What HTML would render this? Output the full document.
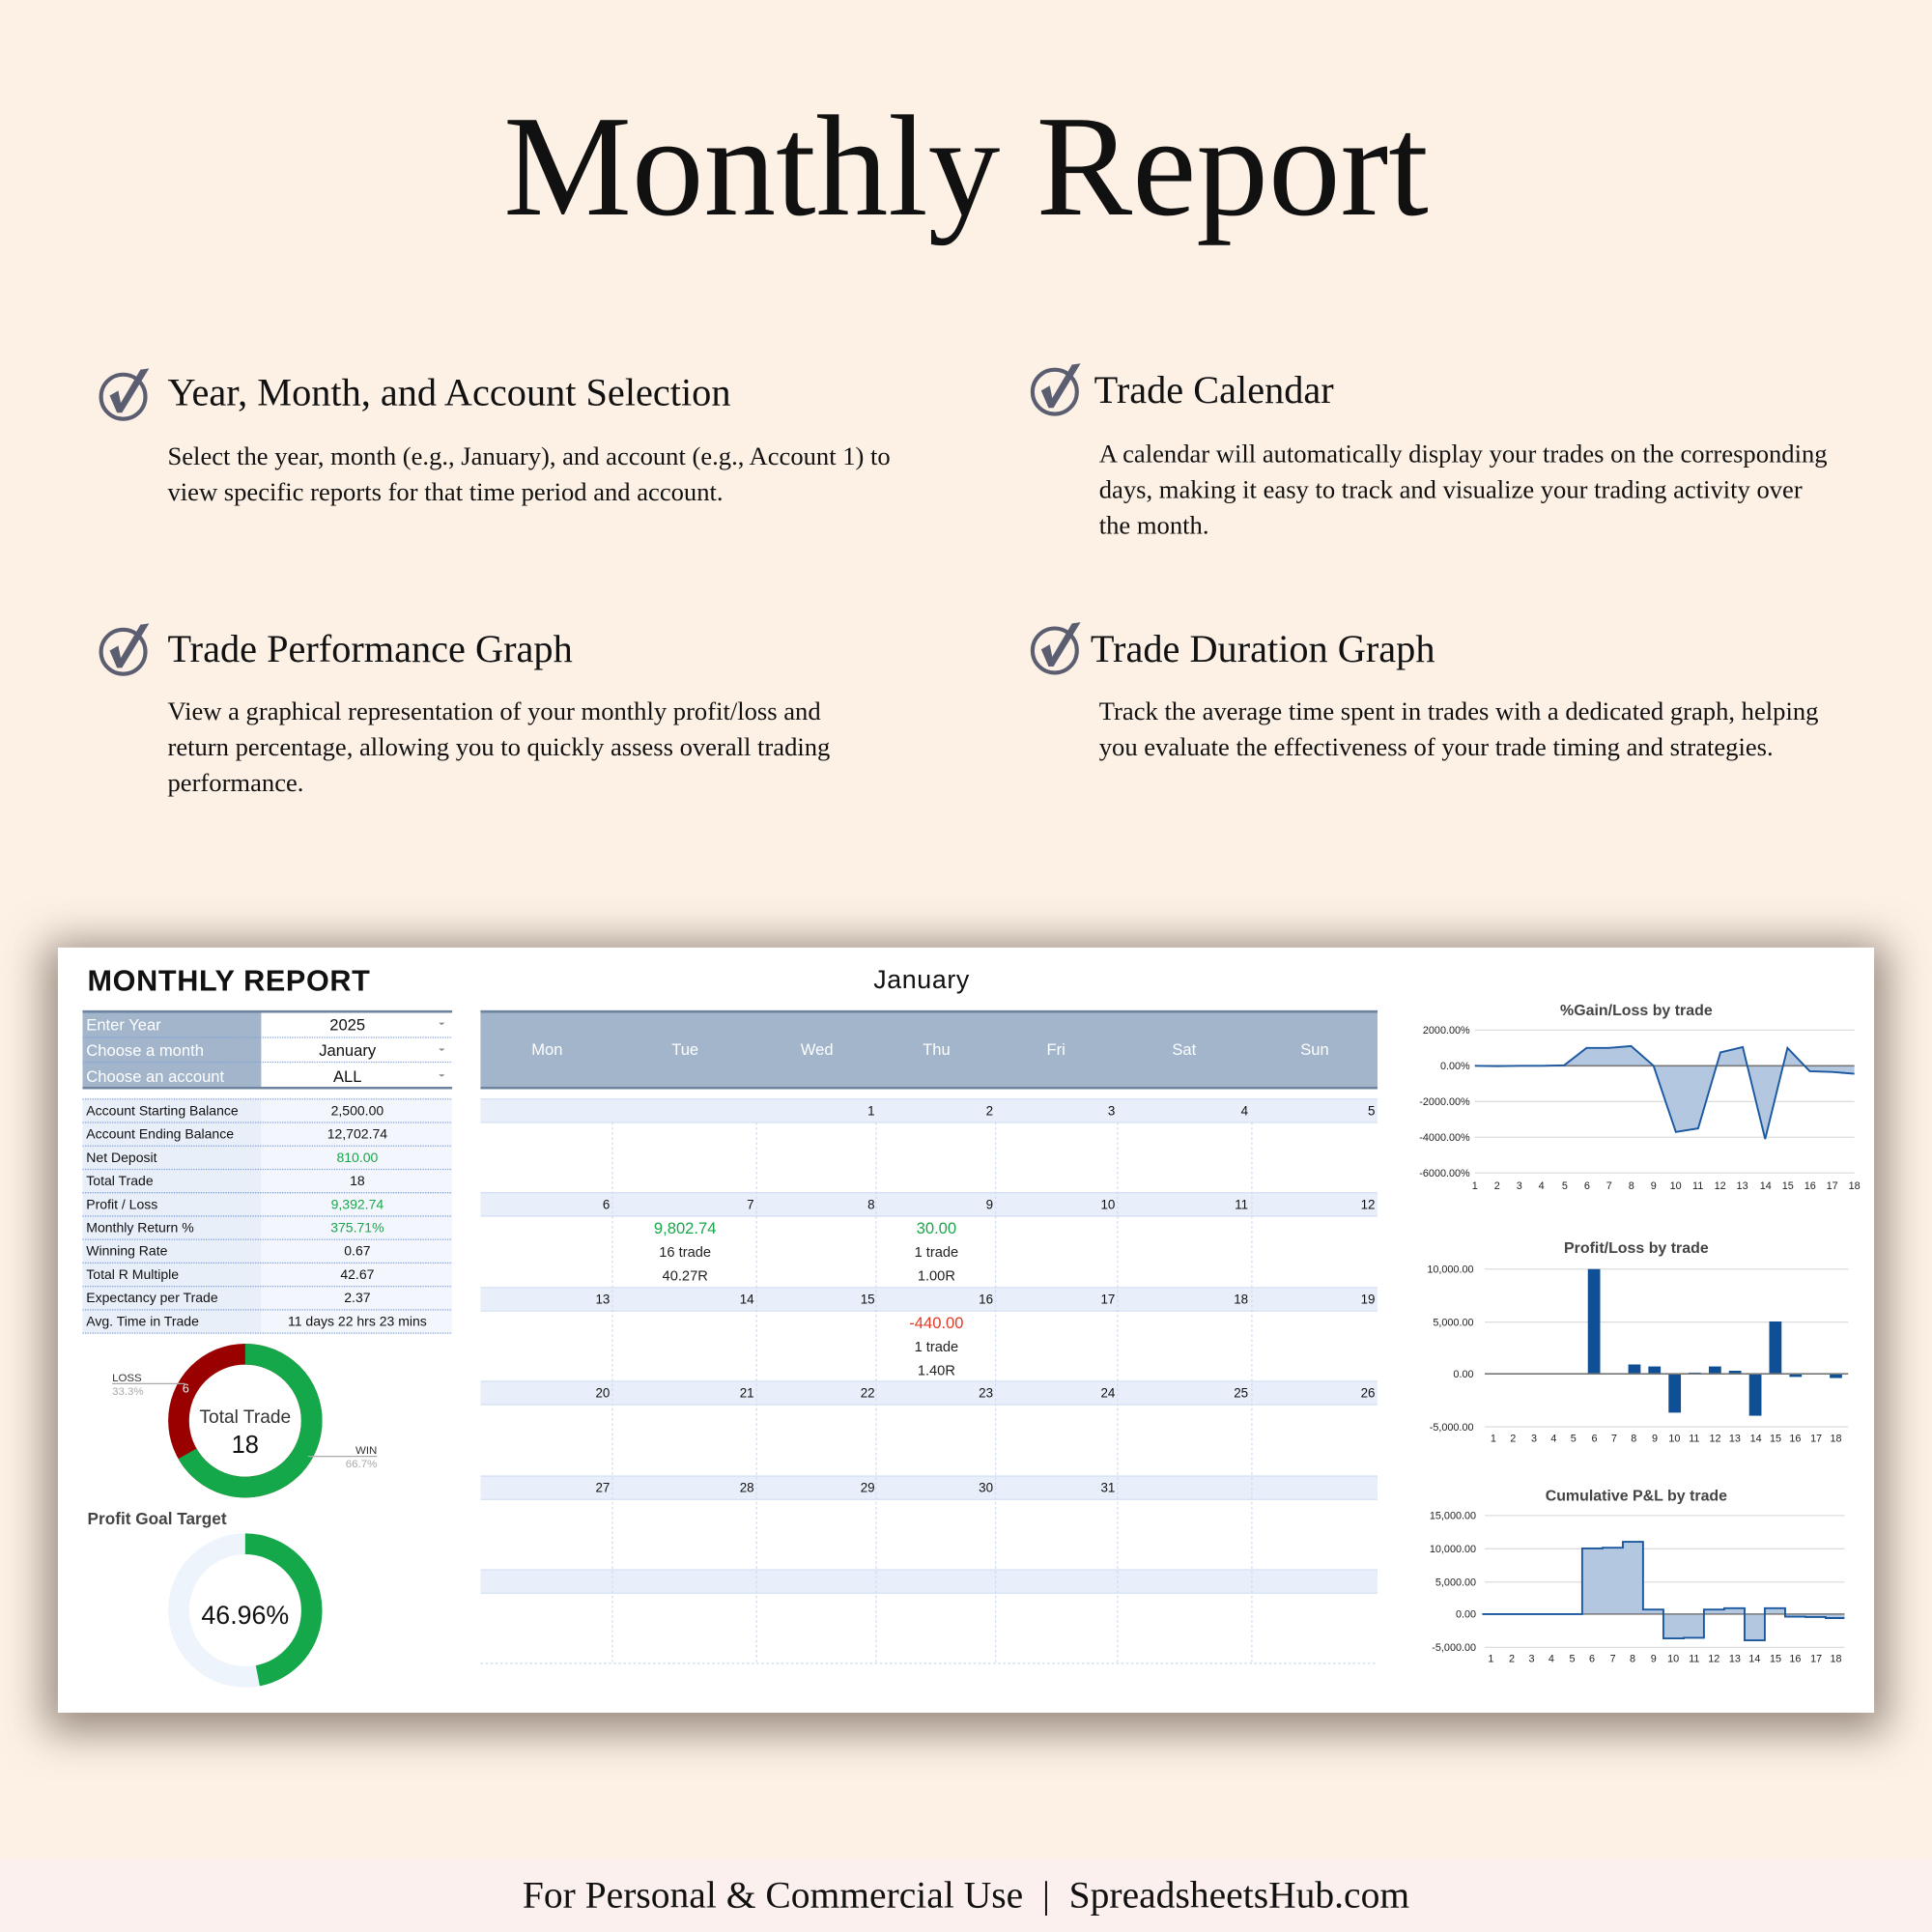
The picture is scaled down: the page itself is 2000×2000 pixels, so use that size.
<!DOCTYPE html>
<html><head><meta charset="utf-8"><style>
html,body{margin:0;padding:0;}
body{width:2000px;height:2000px;overflow:hidden;background:#fdf1e6;}
#c{position:absolute;left:0;top:0;width:1568px;height:1568px;transform:scale(1.27551);transform-origin:0 0;font-family:"Liberation Serif",serif;color:#111;}
.t{position:absolute;white-space:nowrap;}
.h{font-size:31.6px;}
.p{font-size:20.85px;line-height:29px;}
#panel{position:absolute;left:47px;top:769px;width:1474px;height:621px;background:#fff;box-shadow:0 6px 32px 10px rgba(70,55,40,.55);}
</style></head><body><div id="c">
<div class="t" style="left:0;width:1568px;text-align:center;top:66px;font-size:117px;line-height:140px;">Monthly Report</div>

<svg class="t" style="left:0;top:0" width="1568" height="760">
<defs><g id="ck"><circle cx="0" cy="0" r="18" fill="none" stroke="#5b5e70" stroke-width="3.2"/><path d="M-11,-1 L-4,-5 L-2,5 L14,-22 L21,-23 L-1,13 L-5,13 Z" fill="#5b5e70"/></g></defs>
<use href="#ck" x="100" y="322"/><use href="#ck" x="856" y="318"/>
<use href="#ck" x="100" y="529"/><use href="#ck" x="856" y="528"/>
</svg>
<div class="t h" style="left:136px;top:301px;">Year, Month, and Account Selection</div>
<div class="t p" style="left:136px;top:356px;">Select the year, month (e.g., January), and account (e.g., Account 1) to<br>view specific reports for that time period and account.</div>
<div class="t h" style="left:888px;top:299px;">Trade Calendar</div>
<div class="t p" style="left:892px;top:354px;">A calendar will automatically display your trades on the corresponding<br>days, making it easy to track and visualize your trading activity over<br>the month.</div>
<div class="t h" style="left:136px;top:509px;">Trade Performance Graph</div>
<div class="t p" style="left:136px;top:563px;">View a graphical representation of your monthly profit/loss and<br>return percentage, allowing you to quickly assess overall trading<br>performance.</div>
<div class="t h" style="left:885px;top:509px;">Trade Duration Graph</div>
<div class="t p" style="left:892px;top:563px;">Track the average time spent in trades with a dedicated graph, helping<br>you evaluate the effectiveness of your trade timing and strategies.</div>

<div id="panel"></div>
<svg class="t" style="left:0;top:0" width="1568" height="1568" font-family="Liberation Sans, sans-serif">
<text x="71" y="804" font-size="24" fill="#111" letter-spacing="0.5" font-weight="600">MONTHLY REPORT</text>
<text x="748" y="802" font-size="21" fill="#111" text-anchor="middle" letter-spacing="0.5">January</text>
<rect x="67" y="821" width="145" height="62" fill="#a3b5cb"/>
<line x1="67" y1="821" x2="367" y2="821" stroke="#6d849e" stroke-width="2"/>
<line x1="67" y1="883" x2="367" y2="883" stroke="#6d849e" stroke-width="2"/>
<line x1="67" y1="842" x2="367" y2="842" stroke="#7fa0dc" stroke-dasharray="1,1"/>
<line x1="67" y1="862" x2="367" y2="862" stroke="#7fa0dc" stroke-dasharray="1,1"/>
<g font-size="13" fill="#fff"><text x="70" y="836">Enter Year</text><text x="70" y="857">Choose a month</text><text x="70" y="878">Choose an account</text></g>
<g font-size="13" fill="#111" text-anchor="middle"><text x="282" y="836">2025</text><text x="282" y="857">January</text><text x="282" y="878">ALL</text></g>
<g fill="#888"><path d="M356,830h5l-2.5,2z"/><path d="M356,851h5l-2.5,2z"/><path d="M356,872h5l-2.5,2z"/></g>
<rect x="67" y="892" width="145" height="190" fill="#e9eff9"/>
<rect x="212" y="892" width="155" height="190" fill="#f3f7fd"/>
<g stroke="#7fa0dc" stroke-dasharray="1,1">
<line x1="67" y1="892" x2="367" y2="892"/><line x1="67" y1="911" x2="367" y2="911"/><line x1="67" y1="930" x2="367" y2="930"/><line x1="67" y1="949" x2="367" y2="949"/><line x1="67" y1="968" x2="367" y2="968"/><line x1="67" y1="987" x2="367" y2="987"/><line x1="67" y1="1006" x2="367" y2="1006"/><line x1="67" y1="1025" x2="367" y2="1025"/><line x1="67" y1="1044" x2="367" y2="1044"/><line x1="67" y1="1063" x2="367" y2="1063"/><line x1="67" y1="1082" x2="367" y2="1082"/></g>
<g font-size="11" fill="#111">
<text x="70" y="905">Account Starting Balance</text><text x="70" y="924">Account Ending Balance</text><text x="70" y="943">Net Deposit</text><text x="70" y="962">Total Trade</text><text x="70" y="981">Profit / Loss</text><text x="70" y="1000">Monthly Return %</text><text x="70" y="1019">Winning Rate</text><text x="70" y="1038">Total R Multiple</text><text x="70" y="1057">Expectancy per Trade</text><text x="70" y="1076">Avg. Time in Trade</text></g>
<g font-size="11" fill="#111" text-anchor="middle">
<text x="290" y="905">2,500.00</text><text x="290" y="924">12,702.74</text><text x="290" y="943" fill="#1aa64a">810.00</text><text x="290" y="962">18</text><text x="290" y="981" fill="#1aa64a">9,392.74</text><text x="290" y="1000" fill="#1aa64a">375.71%</text><text x="290" y="1019">0.67</text><text x="290" y="1038">42.67</text><text x="290" y="1057">2.37</text><text x="290" y="1076">11 days 22 hrs 23 mins</text></g>
<circle cx="199" cy="1153" r="54" fill="none" stroke="#990000" stroke-width="17"/>
<circle cx="199" cy="1153" r="54" fill="none" stroke="#14a84a" stroke-width="17" stroke-dasharray="226.3 400" transform="rotate(-90 199 1153)"/>
<text x="199" y="1155" font-size="15" fill="#333" text-anchor="middle">Total Trade</text>
<text x="199" y="1179" font-size="20" fill="#111" text-anchor="middle">18</text>
<line x1="91" y1="1123" x2="150" y2="1123" stroke="#aaa"/><text x="91" y="1121" font-size="9" fill="#333">LOSS</text><text x="91" y="1132" font-size="9" fill="#aaa">33.3%</text><text x="148" y="1130" font-size="10" fill="#eee">6</text>
<line x1="250" y1="1182" x2="306" y2="1182" stroke="#aaa"/><text x="306" y="1180" font-size="9" fill="#333" text-anchor="end">WIN</text><text x="306" y="1191" font-size="9" fill="#aaa" text-anchor="end">66.7%</text>
<text x="71" y="1237" font-size="13.5" font-weight="bold" fill="#444">Profit Goal Target</text>
<circle cx="199" cy="1307" r="54" fill="none" stroke="#eef4fc" stroke-width="17"/>
<circle cx="199" cy="1307" r="54" fill="none" stroke="#14a84a" stroke-width="17" stroke-dasharray="159.3 400" transform="rotate(-90 199 1307)"/>
<text x="199" y="1318" font-size="21" fill="#111" text-anchor="middle">46.96%</text>
<rect x="390" y="820" width="728" height="63" fill="#a2b5cb"/>
<line x1="390" y1="821" x2="1118" y2="821" stroke="#6d849e" stroke-width="2"/>
<line x1="390" y1="883" x2="1118" y2="883" stroke="#6d849e" stroke-width="2"/>
<g font-size="13" fill="#fff" text-anchor="middle"><text x="444" y="856">Mon</text><text x="556" y="856">Tue</text><text x="663" y="856">Wed</text><text x="760" y="856">Thu</text><text x="857" y="856">Fri</text><text x="961" y="856">Sat</text><text x="1067" y="856">Sun</text></g>
<g fill="#e8effa"><rect x="390" y="892" width="728" height="19"/><rect x="390" y="968" width="728" height="19"/><rect x="390" y="1045" width="728" height="19"/><rect x="390" y="1121" width="728" height="19"/><rect x="390" y="1198" width="728" height="19"/><rect x="390" y="1274" width="728" height="19"/></g>
<g stroke="#d4e0f4"><line x1="390" y1="892" x2="1118" y2="892"/><line x1="390" y1="911" x2="1118" y2="911"/><line x1="390" y1="968" x2="1118" y2="968"/><line x1="390" y1="987" x2="1118" y2="987"/><line x1="390" y1="1045" x2="1118" y2="1045"/><line x1="390" y1="1064" x2="1118" y2="1064"/><line x1="390" y1="1121" x2="1118" y2="1121"/><line x1="390" y1="1140" x2="1118" y2="1140"/><line x1="390" y1="1198" x2="1118" y2="1198"/><line x1="390" y1="1217" x2="1118" y2="1217"/><line x1="390" y1="1274" x2="1118" y2="1274"/><line x1="390" y1="1293" x2="1118" y2="1293"/></g>
<g stroke="#cfdcf2" stroke-dasharray="2,2"><line x1="497" y1="911" x2="497" y2="1350"/><line x1="614" y1="911" x2="614" y2="1350"/><line x1="711" y1="911" x2="711" y2="1350"/><line x1="808" y1="911" x2="808" y2="1350"/><line x1="907" y1="911" x2="907" y2="1350"/><line x1="1016" y1="911" x2="1016" y2="1350"/><line x1="390" y1="1350" x2="1118" y2="1350"/></g>
<g font-size="10.5" fill="#111" text-anchor="end">
<text x="710" y="905">1</text><text x="806" y="905">2</text><text x="905" y="905">3</text><text x="1013" y="905">4</text><text x="1116" y="905">5</text>
<text x="495" y="981">6</text><text x="612" y="981">7</text><text x="710" y="981">8</text><text x="806" y="981">9</text><text x="905" y="981">10</text><text x="1013" y="981">11</text><text x="1116" y="981">12</text>
<text x="495" y="1058">13</text><text x="612" y="1058">14</text><text x="710" y="1058">15</text><text x="806" y="1058">16</text><text x="905" y="1058">17</text><text x="1013" y="1058">18</text><text x="1116" y="1058">19</text>
<text x="495" y="1134">20</text><text x="612" y="1134">21</text><text x="710" y="1134">22</text><text x="806" y="1134">23</text><text x="905" y="1134">24</text><text x="1013" y="1134">25</text><text x="1116" y="1134">26</text>
<text x="495" y="1211">27</text><text x="612" y="1211">28</text><text x="710" y="1211">29</text><text x="806" y="1211">30</text><text x="905" y="1211">31</text></g>
<g font-size="11.5" fill="#222" text-anchor="middle">
<text x="556" y="1001" fill="#1aa64a" font-size="13">9,802.74</text><text x="556" y="1020">16 trade</text><text x="556" y="1039">40.27R</text>
<text x="760" y="1001" fill="#1aa64a" font-size="13">30.00</text><text x="760" y="1020">1 trade</text><text x="760" y="1039">1.00R</text>
<text x="760" y="1078" fill="#e03a24" font-size="13">-440.00</text><text x="760" y="1097">1 trade</text><text x="760" y="1116">1.40R</text></g>
<text x="1328" y="824" font-size="12.5" font-weight="bold" fill="#444" text-anchor="middle">%Gain/Loss by trade</text>
<g stroke="#ddd"><line x1="1197" y1="836" x2="1505" y2="836"/><line x1="1197" y1="894" x2="1505" y2="894"/><line x1="1197" y1="923" x2="1505" y2="923"/><line x1="1197" y1="952" x2="1505" y2="952"/></g>
<g font-size="8.5" fill="#222" text-anchor="end"><text x="1193" y="839">2000.00%</text><text x="1193" y="868">0.00%</text><text x="1193" y="897">-2000.00%</text><text x="1193" y="926">-4000.00%</text><text x="1193" y="955">-6000.00%</text></g>
<path d="M1197,865 L1215.1,865.3 1233.2,865 1251.4,865 1269.5,864.6 1287.6,850.5 1305.7,850.5 1323.8,849 1342,865 1360.1,918.7 1378.2,915.8 1396.3,854.1 1414.4,849.8 1432.6,924.5 1450.7,850.5 1468.8,869.4 1486.9,870 1505,871.5 L1505,865 Z" fill="#b3c8e0"/>
<line x1="1197" y1="865" x2="1505" y2="865" stroke="#777" stroke-width="1.2"/>
<path d="M1197,865 L1215.1,865.3 1233.2,865 1251.4,865 1269.5,864.6 1287.6,850.5 1305.7,850.5 1323.8,849 1342,865 1360.1,918.7 1378.2,915.8 1396.3,854.1 1414.4,849.8 1432.6,924.5 1450.7,850.5 1468.8,869.4 1486.9,870 1505,871.5" fill="none" stroke="#1b58a0" stroke-width="1.5"/>
<g font-size="8.5" fill="#222" text-anchor="middle"><text x="1197" y="965">1</text><text x="1215" y="965">2</text><text x="1233" y="965">3</text><text x="1251" y="965">4</text><text x="1270" y="965">5</text><text x="1288" y="965">6</text><text x="1306" y="965">7</text><text x="1324" y="965">8</text><text x="1342" y="965">9</text><text x="1360" y="965">10</text><text x="1378" y="965">11</text><text x="1396" y="965">12</text><text x="1414" y="965">13</text><text x="1433" y="965">14</text><text x="1451" y="965">15</text><text x="1469" y="965">16</text><text x="1487" y="965">17</text><text x="1505" y="965">18</text></g>
<text x="1328" y="1017" font-size="12.5" font-weight="bold" fill="#444" text-anchor="middle">Profit/Loss by trade</text>
<g stroke="#ddd"><line x1="1205" y1="1030" x2="1500" y2="1030"/><line x1="1205" y1="1073" x2="1500" y2="1073"/><line x1="1205" y1="1158" x2="1500" y2="1158"/></g>
<g font-size="8.5" fill="#222" text-anchor="end"><text x="1196" y="1033">10,000.00</text><text x="1196" y="1076">5,000.00</text><text x="1196" y="1118">0.00</text><text x="1196" y="1161">-5,000.00</text></g>
<g fill="#0f4f96"><rect x="1288.7" y="1030" width="10" height="85"/><rect x="1321.5" y="1107.4" width="10" height="7.6"/><rect x="1337.8" y="1109" width="10" height="6"/><rect x="1354.2" y="1115" width="10" height="31.5"/><rect x="1370.5" y="1114" width="10" height="1"/><rect x="1386.9" y="1109" width="10" height="6"/><rect x="1403.2" y="1112.5" width="10" height="2.5"/><rect x="1419.6" y="1115" width="10" height="34"/><rect x="1435.9" y="1072.5" width="10" height="42.5"/><rect x="1452.3" y="1115" width="10" height="2.5"/><rect x="1485" y="1115" width="10" height="3.4"/></g>
<line x1="1205" y1="1115" x2="1500" y2="1115" stroke="#777" stroke-width="1.2"/>
<g font-size="8.5" fill="#222" text-anchor="middle"><text x="1212" y="1170">1</text><text x="1228" y="1170">2</text><text x="1245" y="1170">3</text><text x="1261" y="1170">4</text><text x="1277" y="1170">5</text><text x="1294" y="1170">6</text><text x="1310" y="1170">7</text><text x="1326" y="1170">8</text><text x="1343" y="1170">9</text><text x="1359" y="1170">10</text><text x="1375" y="1170">11</text><text x="1392" y="1170">12</text><text x="1408" y="1170">13</text><text x="1425" y="1170">14</text><text x="1441" y="1170">15</text><text x="1457" y="1170">16</text><text x="1474" y="1170">17</text><text x="1490" y="1170">18</text></g>
<text x="1328" y="1218" font-size="12.5" font-weight="bold" fill="#444" text-anchor="middle">Cumulative P&amp;L by trade</text>
<g stroke="#ddd"><line x1="1205" y1="1230" x2="1497" y2="1230"/><line x1="1205" y1="1257" x2="1497" y2="1257"/><line x1="1205" y1="1284" x2="1497" y2="1284"/><line x1="1205" y1="1337" x2="1497" y2="1337"/></g>
<g font-size="8.5" fill="#222" text-anchor="end"><text x="1198" y="1233">15,000.00</text><text x="1198" y="1260">10,000.00</text><text x="1198" y="1287">5,000.00</text><text x="1198" y="1313">0.00</text><text x="1198" y="1340">-5,000.00</text></g>
<path d="M1203,1310 H1284.1 V1256.7 H1300.6 V1256.1 H1317.1 V1251.3 H1333.5 V1306.3 H1350 V1329.7 H1366.5 V1329.2 H1382.9 V1306.3 H1399.4 V1305.2 H1415.9 V1331.3 H1432.3 V1305.2 H1448.8 V1312.1 H1465.3 V1312.4 H1481.7 V1313.2 H1497 V1310 Z" fill="#b3c8e0"/>
<line x1="1203" y1="1310" x2="1497" y2="1310" stroke="#777" stroke-width="1.2"/>
<path d="M1203,1310 H1284.1 V1256.7 H1300.6 V1256.1 H1317.1 V1251.3 H1333.5 V1306.3 H1350 V1329.7 H1366.5 V1329.2 H1382.9 V1306.3 H1399.4 V1305.2 H1415.9 V1331.3 H1432.3 V1305.2 H1448.8 V1312.1 H1465.3 V1312.4 H1481.7 V1313.2 H1497" fill="none" stroke="#1b58a0" stroke-width="1.5"/>
<g font-size="8.5" fill="#222" text-anchor="middle"><text x="1210" y="1349">1</text><text x="1227" y="1349">2</text><text x="1243" y="1349">3</text><text x="1259" y="1349">4</text><text x="1276" y="1349">5</text><text x="1292" y="1349">6</text><text x="1309" y="1349">7</text><text x="1325" y="1349">8</text><text x="1342" y="1349">9</text><text x="1358" y="1349">10</text><text x="1375" y="1349">11</text><text x="1391" y="1349">12</text><text x="1408" y="1349">13</text><text x="1424" y="1349">14</text><text x="1441" y="1349">15</text><text x="1457" y="1349">16</text><text x="1474" y="1349">17</text><text x="1490" y="1349">18</text></g>
</svg>

<div class="t" style="left:0;top:1509px;width:1568px;height:59px;background:#fbf0ed;"></div>
<div class="t" style="left:0;width:1568px;text-align:center;top:1518px;font-size:31px;line-height:40px;">For Personal &amp; Commercial Use&nbsp; |&nbsp; SpreadsheetsHub.com</div>
</div></body></html>
